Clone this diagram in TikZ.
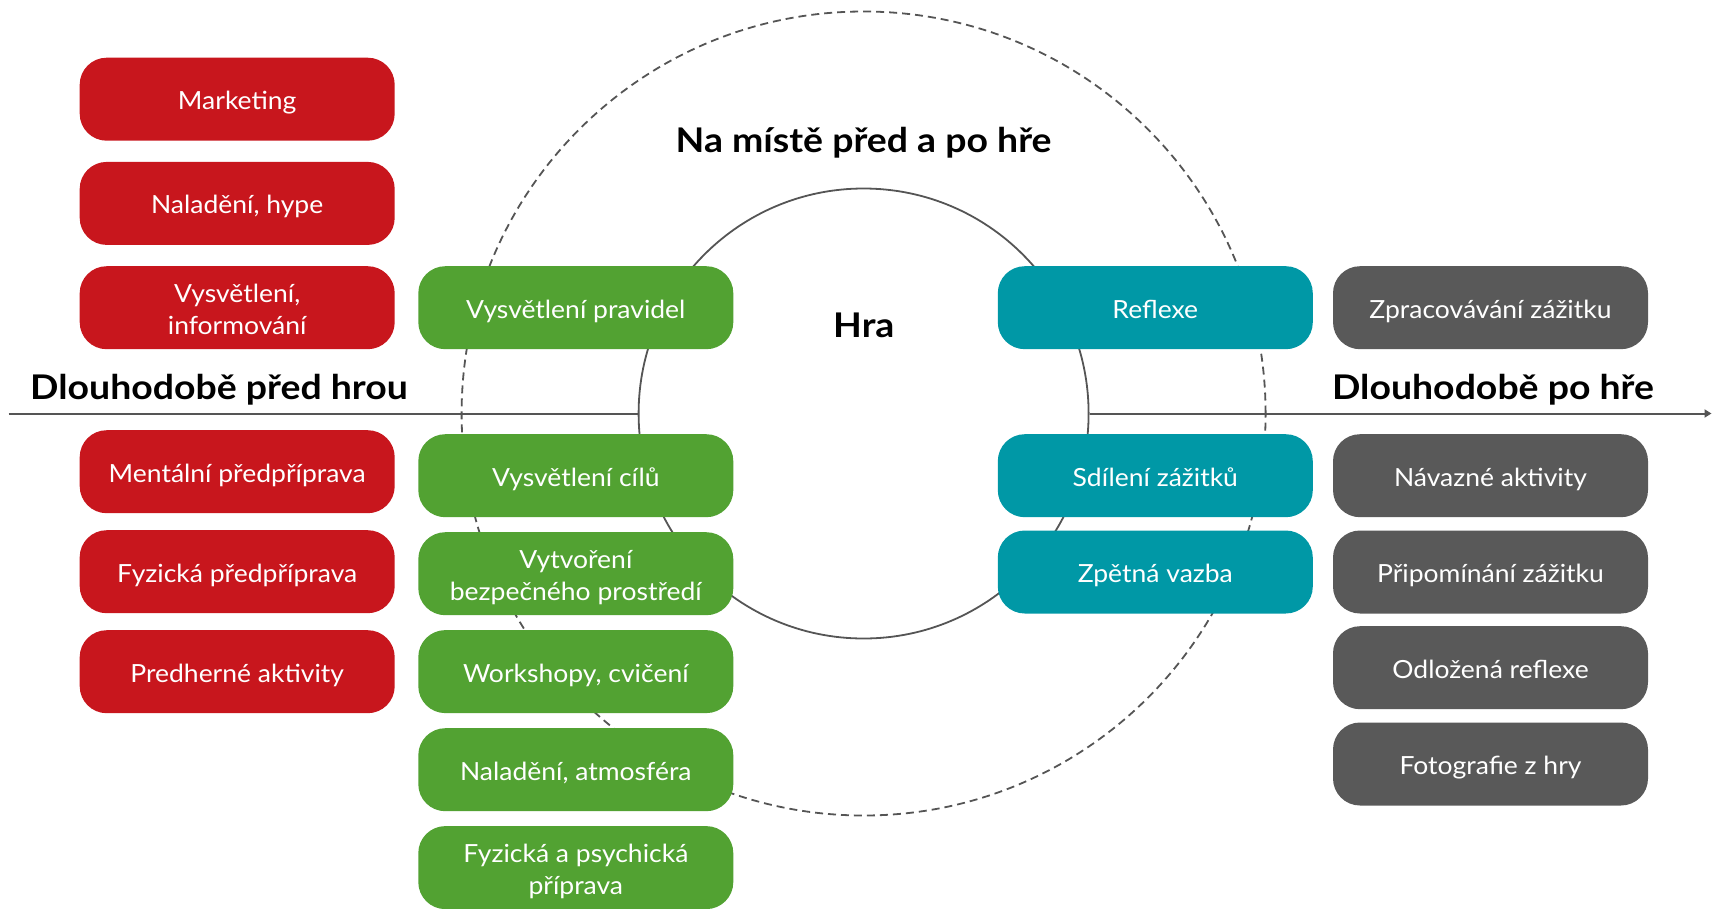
\documentclass[tikz,border=0pt]{standalone}
\usepackage{fontspec}
\setmainfont{Lato}[FakeStretch=1.06]
\newfontfamily\headfont{Lato}[FakeStretch=1.1]
\usetikzlibrary{arrows.meta}

\definecolor{hrared}{HTML}{C8161D}
\definecolor{hragreen}{HTML}{52A232}
\definecolor{hrateal}{HTML}{0098A6}
\definecolor{hragray}{HTML}{595959}
\definecolor{hraline}{HTML}{555555}

\tikzset{
  box/.style={rounded corners=27pt, minimum width=315pt, minimum height=83pt,
    inner sep=0pt, text=white, align=center,
    font=\fontsize{25}{32}\selectfont},
  onebox/.style={box, text height=21pt, text depth=0pt},
  twobox/.style={box, text height=53pt, text depth=0pt},
  heading/.style={anchor=base, font=\headfont\fontsize{34}{40}\selectfont\bfseries},
}

\begin{document}
\begin{tikzpicture}[x=1pt,y=-1pt]
  \useasboundingbox (0,0) rectangle (1712,908);

  % Coordinates
  \coordinate (O) at (863.6, 413.5);
  \coordinate (L) at (8.5, 413.5);
  \coordinate (R) at (1711.5, 413.5);

  % Circles
  \node[circle, draw=hraline, line width=1.8pt, dash pattern=on 8pt off 5pt,
    minimum size=804pt, inner sep=0pt] (okoli) at (O) {};
  \node[circle, draw=hraline, line width=1.8pt, minimum size=450pt,
    inner sep=0pt] (hra) at (O) {};

  % Axis
  \draw[hraline, line width=2pt] (L) -- (hra.west);
  \draw[hraline, line width=2pt, -{Triangle[length=7pt,width=8pt]}] (hra.east) -- (R);

  % Headings
  \node[heading] (namiste) at (863.6, 152.7) {Na místě před a po hře};
  \node[heading] (hratext) at (863.8, 337.3) {Hra};
  \node[heading] (pred) at (219.0, 399.3) {Dlouhodobě před hrou};
  \node[heading] (po) at (1493.0, 399.3) {Dlouhodobě po hře};

  % Long before the game
  \node[onebox, fill=hrared] (marketing) at (237.2, 99.2) {Marketing};
  \node[onebox, fill=hrared] (hype) at (237.2, 203.4) {Naladění, hype};
  \node[twobox, fill=hrared] (info) at (237.2, 307.7) {Vysvětlení,\\informování};
  \node[onebox, fill=hrared] (mentalni) at (237.2, 471.7) {Mentální předpříprava};
  \node[onebox, fill=hrared] (fyzicka) at (237.2, 571.7) {Fyzická předpříprava};
  \node[onebox, fill=hrared] (predherne) at (237.2, 671.7) {Predherné aktivity};

  % On site before
  \node[onebox, fill=hragreen] (pravidla) at (575.8, 307.7) {Vysvětlení pravidel};
  \node[onebox, fill=hragreen] (cile) at (575.8, 475.7) {Vysvětlení cílů};
  \node[twobox, fill=hragreen] (bezpeci) at (575.8, 573.7) {Vytvoření\\bezpečného prostředí};
  \node[onebox, fill=hragreen] (workshopy) at (575.8, 671.6) {Workshopy, cvičení};
  \node[onebox, fill=hragreen] (atmosfera) at (575.8, 769.7) {Naladění, atmosféra};
  \node[twobox, fill=hragreen] (priprava) at (575.8, 867.6) {Fyzická a psychická\\příprava};

  % On site after
  \node[onebox, fill=hrateal] (reflexe) at (1155.3, 307.7) {Reflexe};
  \node[onebox, fill=hrateal] (sdileni) at (1155.3, 475.7) {Sdílení zážitků};
  \node[onebox, fill=hrateal] (vazba) at (1155.3, 572.0) {Zpětná vazba};

  % Long after the game
  \node[onebox, fill=hragray] (zpracovani) at (1490.5, 307.7) {Zpracovávání zážitku};
  \node[onebox, fill=hragray] (navazne) at (1490.5, 475.7) {Návazné aktivity};
  \node[onebox, fill=hragray] (pripominani) at (1490.5, 572.0) {Připomínání zážitku};
  \node[onebox, fill=hragray] (odlozena) at (1490.5, 667.7) {Odložená reflexe};
  \node[onebox, fill=hragray] (foto) at (1490.5, 764.0) {Fotografie z hry};
\end{tikzpicture}
\end{document}
